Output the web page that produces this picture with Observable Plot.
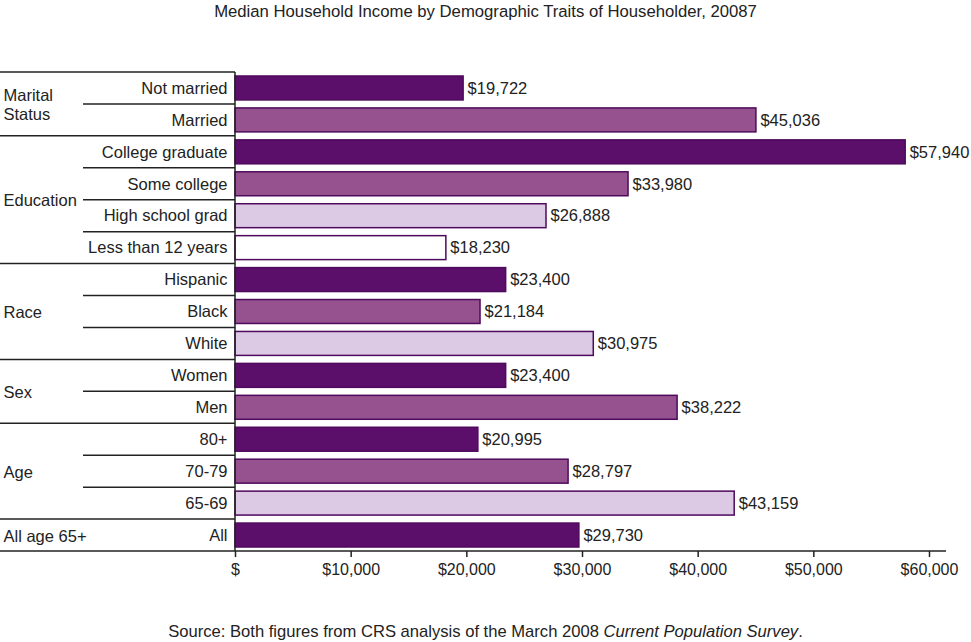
<!DOCTYPE html>
<html>
<head>
<meta charset="utf-8">
<script src="https://cdn.jsdelivr.net/npm/d3@7"></script>
<script src="https://cdn.jsdelivr.net/npm/@observablehq/plot@0.6"></script>
<style>
  body { margin: 0; background: #fff; font-family: "Liberation Sans", Arial, sans-serif; color: #222; }
  #wrap { position: relative; width: 971px; height: 642px; overflow: hidden; }
  #title { position: absolute; top: 2px; left: 0; width: 971px; text-align: center; font-size: 16.7px; line-height: 20px; }
  #chart { position: absolute; top: 24px; left: 0; }
  #source { position: absolute; top: 622px; left: 0; width: 971px; text-align: center; font-size: 16.6px; line-height: 20px; }
</style>
</head>
<body>
<div id="wrap">
  <div id="title">Median Household Income by Demographic Traits of Householder, 20087</div>
  <div id="chart"></div>
  <div id="source">Source: Both figures from CRS analysis of the March 2008 <i>Current Population Survey</i>.</div>
</div>
<script>
const categories = ["Not married", "Married", "College graduate", "Some college", "High school grad", "Less than 12 years", "Hispanic", "Black", "White", "Women", "Men", "80+", "70-79", "65-69", "All"];
const groupOf = ["Marital\nStatus", "Marital\nStatus", "Education", "Education", "Education", "Education", "Race", "Race", "Race", "Sex", "Sex", "Age", "Age", "Age", "All age 65+"];
const incomes = [19722, 45036, 57940, 33980, 26888, 18230, 23400, 21184, 30975, 23400, 38222, 20995, 28797, 43159, 29730];
const shade = [0, 1, 0, 1, 2, 3, 0, 1, 2, 0, 1, 0, 1, 2, 0];
const shadeColors = ["#5c0e6b", "#96528f", "#dcc9e3", "#ffffff"];
const xTicks = [0, 10000, 20000, 30000, 40000, 50000, 60000];

const rows = categories.map((c, i) => ({category: c, group: groupOf[i], income: incomes[i], shade: shade[i]}));

// groups (label, first row, number of rows)
const groups = [];
groupOf.forEach((g, i) => {
  if (i === 0 || groupOf[i - 1] !== g) groups.push({label: g, first: i, count: 1});
  else groups[groups.length - 1].count++;
});

const H = 566, mt = 48, mb = 39, ml = 235, mr = 42;
const step = (H - mt - mb) / categories.length;
const money = d3.format(",");
const tickFmt = d => d === 0 ? "$" : "$" + money(d);
const FS = 16.5;

function tableLines(...args) {
  let scales, dims;
  if (args.length >= 4) { scales = args[1]; dims = args[3]; } else { scales = args[0]; dims = args[1]; }
  const y = scales.y, x = scales.x;
  const bw = y.bandwidth ? y.bandwidth() : 0;
  const st = y.step ? y.step() : step;
  const xl = dims.marginLeft;
  const g = d3.create("svg:g").attr("stroke", "#222").attr("stroke-width", 1.5).attr("fill", "none");
  const line = (x1, x2, y1, y2) => g.append("line").attr("x1", x1).attr("x2", x2).attr("y1", y1).attr("y2", y2);
  const top = y(categories[0]) + bw / 2 - st / 2;
  const bottom = y(categories[categories.length - 1]) + bw / 2 + st / 2;
  line(0, xl, top, top);
  for (let i = 1; i < categories.length; i++) {
    const b = y(categories[i]) + bw / 2 - st / 2;
    const newGroup = groupOf[i] !== groupOf[i - 1];
    line(newGroup ? 0 : 83, xl, b, b);
  }
  line(0, x(xTicks[xTicks.length - 1]) + 17, bottom, bottom);
  line(xl, xl, top, bottom);
  return g.node();
}

const plot = Plot.plot({
  width: 971,
  height: H,
  marginTop: mt,
  marginBottom: mb,
  marginLeft: ml,
  marginRight: mr,
  style: {fontFamily: "Liberation Sans, Arial, sans-serif", fontSize: FS + "px", color: "#222", background: "#fff", overflow: "visible"},
  x: {domain: [0, 60000], label: null},
  y: {domain: categories, paddingInner: 0.25, paddingOuter: 0.125, round: false, axis: null},
  color: {type: "ordinal", domain: [0, 1, 2, 3], range: shadeColors},
  marks: [
    Plot.barX(rows, {x: "income", y: "category", fill: "shade", stroke: "#4e0a5c", strokeWidth: 1.5}),
    Plot.text(rows, {x: "income", y: "category", text: d => "$" + money(d.income), textAnchor: "start", dx: 4, fontSize: FS, fill: "#222"}),
    Plot.text(rows, {y: "category", text: "category", frameAnchor: "left", textAnchor: "end", dx: -8, fontSize: FS, fill: "#222"}),
    ...groups.map(g => Plot.text([g], {
      y: d => categories[d.first],
      dy: (g.count - 1) * step / 2,
      text: "label",
      frameAnchor: "left",
      textAnchor: "start",
      dx: -(ml - 3),
      lineHeight: 1.15,
      fontSize: FS,
      fill: "#222"
    })),
    Plot.axisX({ticks: xTicks, tickFormat: tickFmt, tickSize: 6, tickPadding: 6, fontSize: 16, stroke: "#222", strokeWidth: 1.5, label: null}),
    tableLines
  ]
});
document.getElementById("chart").appendChild(plot);
</script>
</body>
</html>
